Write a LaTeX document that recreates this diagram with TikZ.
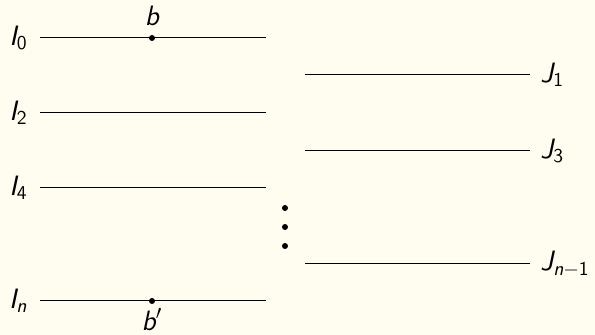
\documentclass[tikz,border=0pt]{standalone}
\usepackage{tikz}
\usetikzlibrary{positioning}
\definecolor{bg}{HTML}{FFFCF0}
\tikzset{
  seg/.style={draw=black,line width=0.5pt},
  pt/.style={circle,fill=black,inner sep=0pt,minimum size=3pt},
  lab/.style={font=\fontsize{14pt}{16pt}\selectfont\sffamily\itshape,inner sep=2pt},
}
\newcommand{\sub}[1]{\textsubscript{#1}}

\begin{document}
\begin{tikzpicture}[x=0.5pt,y=-0.5pt]
\fill[bg] (0,0) rectangle (595,335);
\useasboundingbox (0,0) rectangle (595,335);
% left family I
\foreach \y/\k in {38/0,113/2,188/4,301/n}{
  \coordinate (la\k) at (40,\y);
  \coordinate (lb\k) at (266,\y);
  \draw[seg] (la\k) -- (lb\k);
}
\node[lab,left=4pt of la0] (I0) {I\sub{\upshape 0}};
\node[lab,left=4pt of la2] (I2) {I\sub{\upshape 2}};
\node[lab,left=4pt of la4] (I4) {I\sub{\upshape 4}};
\node[lab,left=4pt of lan] (In) {I\sub{n}};
% right family J
\foreach \y/\k in {75/1,151/3,264/m}{
  \coordinate (ra\k) at (305,\y);
  \coordinate (rb\k) at (530,\y);
  \draw[seg] (ra\k) -- (rb\k);
}
\node[lab,right=3pt of rb1] (J1) {J\sub{\upshape 1}};
\node[lab,right=3pt of rb3] (J3) {J\sub{\upshape 3}};
\node[lab,right=3pt of rbm] (Jm) {J\sub{n\upshape$-$1}};
% points b, b'
\node[pt] (b) at (152,38) {};
\node[lab,above=2pt of b] (blab) {b};
\node[pt] (bp) at (152,301) {};
\node[lab,below=0pt of bp] (bplab) {b$'$};
% vertical dots
\foreach \y/\n in {208/1,227/2,246/3}
  \node[pt] (v\n) at (285,\y) {};
\end{tikzpicture}
\end{document}
